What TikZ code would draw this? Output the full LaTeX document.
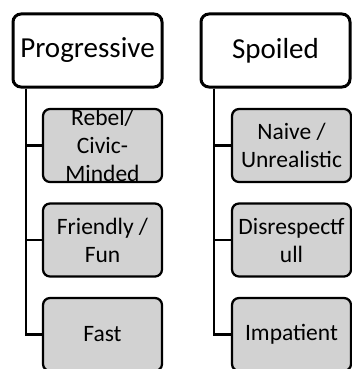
\documentclass[tikz,border=0pt]{standalone}
\usepackage{fontspec}
\setmainfont{Carlito}
\usetikzlibrary{calc}
\definecolor{boxgray}{RGB}{210,210,210}
\tikzset{
  titlebox/.style={draw=black, line width=3pt, rounded corners=8pt, fill=white,
    minimum width=149pt, minimum height=73pt, inner sep=0pt},
  titletext/.style={font=\fontsize{29}{35}\selectfont, inner sep=0pt},
  childbox/.style={draw=black, line width=2.25pt, rounded corners=7pt, fill=boxgray,
    minimum width=119pt, minimum height=73pt, inner sep=0pt},
  childtext/.style={font=\fontsize{23.5}{28}\selectfont, align=center, inner sep=0pt},
  conn/.style={draw=black, line width=2.75pt},
}
\begin{document}
\begin{tikzpicture}[x=1pt,y=1pt]
\useasboundingbox (0,0) rectangle (351,-369);
% left column
\node[titlebox] (P) at (87.5,-50.5) {};
\node[titletext] (Pt) at (P.center) {Progressive};
\coordinate (pl) at ($(P.south west)+(14.5,0)$);
\node[childbox] (R) at (102.5,-145.5) {};
\node[childtext] (Rt) at (R.center) {Rebel/\\Civic-\\Minded};
\node[childbox] (F) at (102.5,-240) {};
\node[childtext] (Ft) at (F.center) {Friendly /\\Fun};
\node[childbox] (Fa) at (102.5,-334.5) {};
\node[childtext] (Fat) at (Fa.center) {Fast};
\draw[conn] (pl) |- (R.west);
\draw[conn] (pl) |- (F.west);
\draw[conn] (pl) |- (Fa.west);
% right column
\node[titlebox] (S) at (275.5,-50.5) {};
\node[titletext] (St) at (S.center) {Spoiled};
\coordinate (sl) at ($(S.south west)+(14.5,0)$);
\node[childbox] (N) at (291.5,-145.5) {};
\node[childtext] (Nt) at (N.center) {Naive /\\Unrealistic};
\node[childbox] (D) at (291.5,-240) {};
\node[childtext] (Dt) at (D.center) {Disrespectf\\ull};
\node[childbox] (I) at (291.5,-334.5) {};
\node[childtext] (It) at (I.center) {Impatient};
\draw[conn] (sl) |- (N.west);
\draw[conn] (sl) |- (D.west);
\draw[conn] (sl) |- (I.west);
\end{tikzpicture}
\end{document}
